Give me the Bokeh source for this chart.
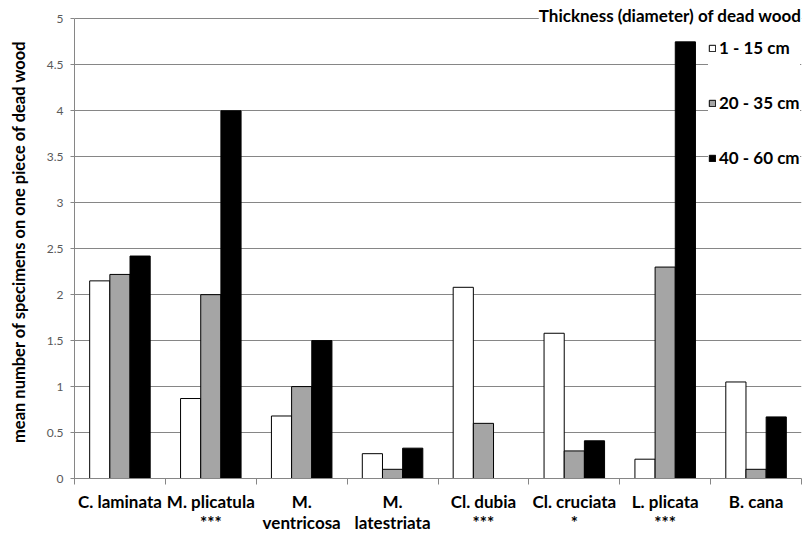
from bokeh.plotting import figure
from bokeh.models import FixedTicker, Legend, LegendItem, Label, ColumnDataSource
from bokeh.transform import dodge
from bokeh.embed import file_html
from bokeh.resources import INLINE

# ---- data ----
categories = ["C. laminata", "M. plicatula", "M. ventricosa", "M. latestriata",
              "Cl. dubia", "Cl. cruciata", "L. plicata", "B. cana"]
tick_labels = ["C. laminata", "M. plicatula\n***", "M.\nventricosa", "M.\nlatestriata",
               "Cl. dubia\n***", "Cl. cruciata\n*", "L. plicata\n***", "B. cana"]
series_names = ["1 - 15 cm", "20 - 35 cm", "40 - 60 cm"]
thin = [2.15, 0.87, 0.68, 0.27, 2.08, 1.58, 0.21, 1.05]
medium = [2.22, 2.00, 1.00, 0.10, 0.60, 0.30, 2.30, 0.10]
thick = [2.42, 4.00, 1.50, 0.33, 0.00, 0.41, 4.75, 0.67]
y_ticks = [0, 0.5, 1, 1.5, 2, 2.5, 3, 3.5, 4, 4.5, 5]
y_tick_labels = ["0", "0.5", "1", "1.5", "2", "2.5", "3", "3.5", "4", "4.5", "5"]
y_title = "mean  number of specimens on one piece of dead wood"
legend_title = "Thickness (diameter) of dead wood"

FONT = "Lato"
AXIS_GRAY = "#868686"

n = len(categories)
centers = [i + 0.5 for i in range(n)]
src = ColumnDataSource(dict(center=centers, thin=thin, medium=medium, thick=thick))

p = figure(width=808, height=535, output_backend="svg", toolbar_location=None,
           x_range=(0, n), y_range=(0, 5.2),
           min_border_left=74, min_border_right=7, min_border_top=0, min_border_bottom=55)
p.outline_line_color = None
p.background_fill_color = "white"

bw = 0.222
r1 = p.vbar(x=dodge("center", -bw, range=p.x_range), top="thin", width=bw, source=src,
            fill_color="white", line_color="black", line_width=1)
r2 = p.vbar(x=dodge("center", 0, range=p.x_range), top="medium", width=bw, source=src,
            fill_color="#a5a5a5", line_color="black", line_width=1)
r3 = p.vbar(x=dodge("center", bw, range=p.x_range), top="thick", width=bw, source=src,
            fill_color="black", line_color="black", line_width=1)

# grid
p.xgrid.visible = False
p.ygrid.ticker = FixedTicker(ticks=y_ticks)
p.ygrid.grid_line_color = AXIS_GRAY
p.ygrid.grid_line_width = 1

# y axis
ya = p.yaxis[0]
ya.ticker = FixedTicker(ticks=y_ticks)
ya.bounds = (0, 5)
ya.major_label_overrides = {t: s for t, s in zip(y_ticks, y_tick_labels)}
ya.major_tick_in = 0
ya.major_tick_out = 4
ya.minor_tick_line_color = None
ya.axis_line_color = AXIS_GRAY
ya.major_tick_line_color = AXIS_GRAY
ya.major_label_text_font = FONT
ya.major_label_text_font_size = "12px"
ya.major_label_text_color = "#595959"
ya.major_label_standoff = 7
ya.axis_label = y_title
ya.axis_label_text_font = FONT
ya.axis_label_text_font_style = "bold"
ya.axis_label_text_font_size = "16.5px"
ya.axis_label_text_color = "black"
ya.axis_label_standoff = 15

# x axis
xa = p.xaxis[0]
xa.ticker = FixedTicker(ticks=centers, minor_ticks=list(range(n + 1)))
xa.major_label_overrides = {c: s for c, s in zip(centers, tick_labels)}
xa.major_tick_line_color = None
xa.major_tick_out = 6
xa.minor_tick_in = 0
xa.minor_tick_out = 6
xa.minor_tick_line_color = AXIS_GRAY
xa.axis_line_color = AXIS_GRAY
xa.major_label_text_font = FONT
xa.major_label_text_font_style = "bold"
xa.major_label_text_font_size = "17px"
xa.major_label_text_color = "black"
xa.major_label_text_line_height = 1.0
xa.major_label_standoff = 6

# legend
legend = Legend(items=[LegendItem(label=series_names[0], renderers=[r1]),
                       LegendItem(label=series_names[1], renderers=[r2]),
                       LegendItem(label=series_names[2], renderers=[r3])],
                location=(634, 310), margin=0, padding=0, spacing=34,
                glyph_width=8, glyph_height=8, label_height=20, label_standoff=3,
                label_text_font=FONT, label_text_font_style="bold",
                label_text_font_size="17px", label_text_color="black",
                background_fill_color="white", background_fill_alpha=1.0,
                border_line_color=None)
p.add_layout(legend)

title_lbl = Label(x=n, y=5, text=legend_title, text_align="right", text_baseline="middle",
                  y_offset=3, text_font=FONT, text_font_style="bold", text_font_size="17px",
                  text_color="black", background_fill_color="white")
p.add_layout(title_lbl)

open("out.html", "w").write(file_html(p, INLINE))
